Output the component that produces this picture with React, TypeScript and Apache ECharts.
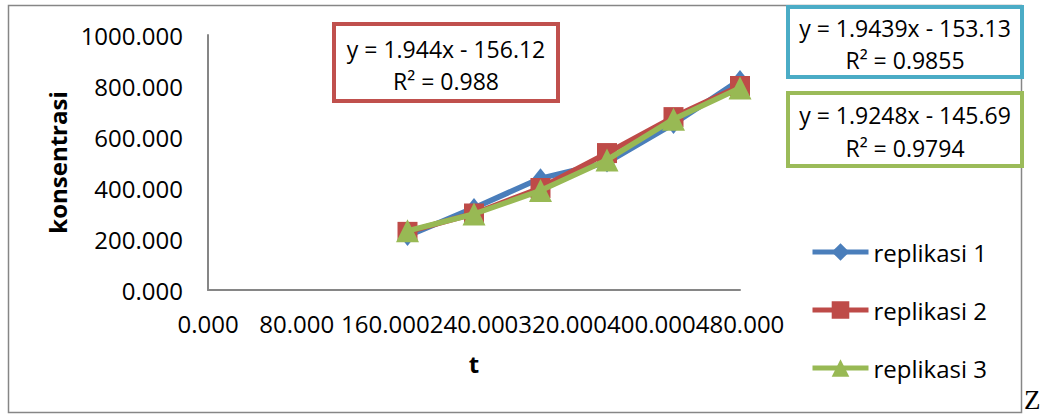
import React, { useEffect, useRef } from "react";
import * as echarts from "echarts";

const tValues = [180, 240, 300, 360, 420, 480];
const replikasi1 = [212, 322, 438, 500, 651, 824];
const replikasi2 = [228, 300, 400, 537, 678, 800];
const replikasi3 = [232, 298, 390, 510, 670, 792];
const seriesNames = ["replikasi 1", "replikasi 2", "replikasi 3"];
const trendRed = ["y = 1.944x - 156.12", "R² = 0.988"];
const trendBlue = ["y = 1.9439x - 153.13", "R² = 0.9855"];
const trendGreen = ["y = 1.9248x - 145.69", "R² = 0.9794"];

const FONT = "'Open Sans', 'Noto Sans', sans-serif";
const FS = 24;
const BFS = 23;

function box(x: number, y: number, w: number, h: number, color: string, lines: string[], l1: number, l2: number) {
  return {
    type: "group",
    children: [
      { type: "rect", shape: { x, y, width: w, height: h }, style: { fill: "#fff", stroke: color, lineWidth: 4 } },
      { type: "text", x: x + w / 2, y: l1, style: { text: lines[0], align: "center", verticalAlign: "middle", fill: "#000", font: `${BFS}px ${FONT}` } },
      { type: "text", x: x + w / 2, y: l2, style: { text: lines[1], align: "center", verticalAlign: "middle", fill: "#000", font: `${BFS}px ${FONT}` } },
    ],
  };
}

export default function App() {
  const ref = useRef<HTMLDivElement>(null);
  useEffect(() => {
    if (!ref.current) return;
    const chart = echarts.init(ref.current, null, { renderer: "svg" });
    const mk = (vals: number[]) => vals.map((v, i) => [tValues[i], v]);
    const colors = ["#4a7ebb", "#be4b48", "#98b954"];
    const symbols = ["diamond", "rect", "triangle"];
    const sizes = [[16, 20], 20, 23];
    const data = [replikasi1, replikasi2, replikasi3];
    chart.setOption({
      animation: false,
      textStyle: { fontFamily: FONT },
      grid: { left: 208, right: 301, top: 35, bottom: 124 },
      xAxis: {
        type: "value",
        min: 0,
        max: 480,
        interval: 80,
        name: "t",
        nameLocation: "middle",
        nameGap: 61,
        nameTextStyle: { fontSize: FS, fontWeight: "bold", color: "#000", fontFamily: FONT },
        axisLine: { show: true, lineStyle: { color: "#868686", width: 2 } },
        axisTick: { show: false },
        splitLine: { show: false },
        axisLabel: { color: "#000", fontSize: FS, fontFamily: FONT, margin: 21, formatter: (v: number) => v.toFixed(3), hideOverlap: false },
      },
      yAxis: {
        type: "value",
        min: 0,
        max: 1000,
        interval: 200,
        name: "konsentrasi",
        nameLocation: "middle",
        nameGap: 133,
        nameTextStyle: { fontSize: FS, fontWeight: "bold", color: "#000", fontFamily: FONT },
        axisLine: { show: true, lineStyle: { color: "#868686", width: 2 } },
        axisTick: { show: false },
        splitLine: { show: false },
        axisLabel: { color: "#000", fontSize: FS, fontFamily: FONT, margin: 25, formatter: (v: number) => v.toFixed(3) },
      },
      legend: {
        orient: "vertical",
        left: 810,
        top: 238,
        padding: 0,
        itemWidth: 56,
        itemHeight: 22,
        itemGap: 30,
        lineStyle: { width: 5 },
        textStyle: { fontSize: FS, color: "#000", fontFamily: FONT, lineHeight: 28 },
        data: seriesNames,
      },
      series: data.map((d, i) => ({
        name: seriesNames[i],
        type: "line",
        data: mk(d),
        symbol: symbols[i],
        symbolSize: sizes[i],
        lineStyle: { color: colors[i], width: 5.5 },
        itemStyle: { color: colors[i] },
        z: 2 + i,
      })),
      graphic: [
        { type: "rect", shape: { x: 8.5, y: 5.5, width: 1013, height: 407 }, style: { fill: "none", stroke: "#868686", lineWidth: 1.5 }, z: -1 },
        box(334, 24, 224, 77, "#c0504d", trendRed, 49, 81),
        box(788, 7, 234, 70, "#4bacc6", trendBlue, 28, 60),
        box(788, 93, 234, 73, "#9bbb59", trendGreen, 115, 148),
        { type: "text", x: 1024, y: 386, style: { text: "Z", fill: "#000", font: "27px 'Liberation Serif', serif" } },
      ],
    });
    return () => chart.dispose();
  }, []);
  return <div ref={ref} style={{ position: "absolute", left: 0, top: 0, width: 1041, height: 414, background: "#fff" }} />;
}
